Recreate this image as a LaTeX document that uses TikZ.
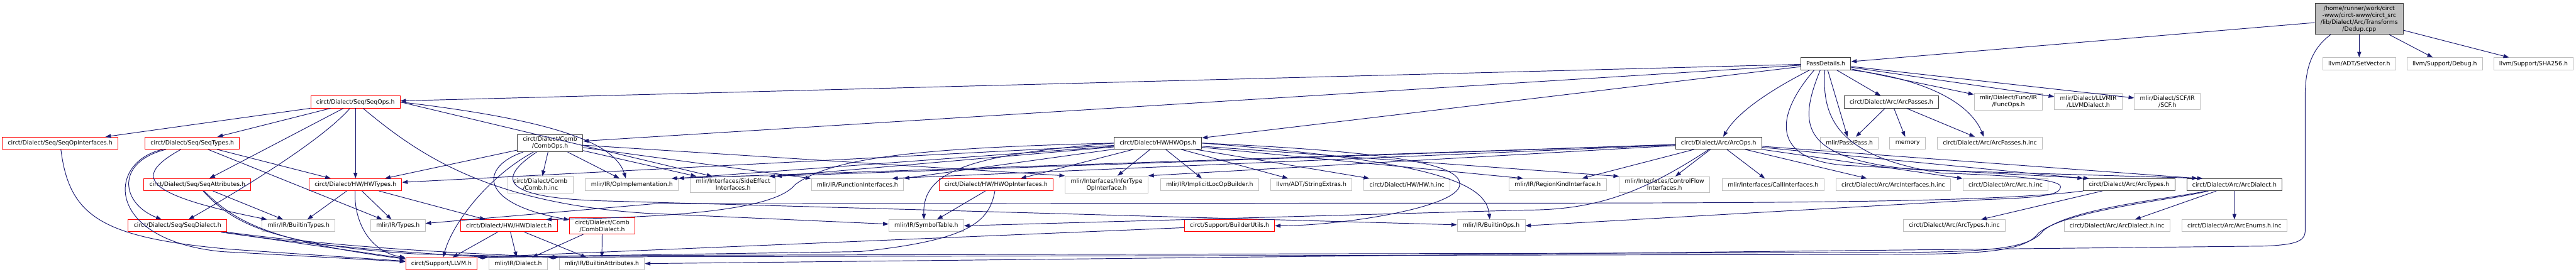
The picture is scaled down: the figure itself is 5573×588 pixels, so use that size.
\documentclass[tikz,border=0pt]{standalone}
\usepackage{fontspec}
\newfontfamily\graphfont{DejaVu Sans}
\usepackage{tikz}
\usetikzlibrary{arrows.meta}
\definecolor{edgeBlue}{RGB}{25,25,112}
\definecolor{boxRed}{RGB}{255,0,0}
\definecolor{boxGray}{RGB}{191,191,191}
\definecolor{boxDark}{RGB}{64,64,64}

\begin{document}
\begin{tikzpicture}[x=1pt, y=-1pt,
    file/.style={rectangle, draw=boxGray, fill=white, line width=1.3pt, inner xsep=12pt, inner ysep=5pt, minimum height=26pt, align=center, font=\graphfont\fontsize{12.7pt}{15pt}\selectfont},
    redfile/.style={file, draw=boxRed},
    docfile/.style={file, draw=boxDark},
    rootfile/.style={file, draw=boxDark, fill=boxGray},
    dep/.style={-{Triangle[length=12pt, width=8.5pt]}, line width=1.3pt, edgeBlue}
]
\useasboundingbox (0,0) rectangle (5573,588);
\node[rootfile] (root) at (5104,41) {/home/runner/work/circt\\-www/circt-www/circt\_src\\/lib/Dialect/Arc/Transforms\\/Dedup.cpp};
\node[docfile] (passdet) at (3950,138) {PassDetails.h};
\node[file] (setvec) at (5104,138) {llvm/ADT/SetVector.h};
\node[file] (debug) at (5289,138) {llvm/Support/Debug.h};
\node[file] (sha) at (5481,138) {llvm/Support/SHA256.h};
\node[redfile] (seqops) at (769,221) {circt/Dialect/Seq/SeqOps.h};
\node[docfile] (arcpasses) at (4092,221) {circt/Dialect/Arc/ArcPasses.h};
\node[file] (funcops) at (4345,220) {mlir/Dialect/Func/IR\\/FuncOps.h};
\node[file] (llvmdia) at (4518,220) {mlir/Dialect/LLVMIR\\/LLVMDialect.h};
\node[file] (scf) at (4689,220) {mlir/Dialect/SCF/IR\\/SCF.h};
\node[redfile] (seqopif) at (130,310) {circt/Dialect/Seq/SeqOpInterfaces.h};
\node[redfile] (seqtypes) at (416,310) {circt/Dialect/Seq/SeqTypes.h};
\node[docfile] (combops) at (1190,310) {circt/Dialect/Comb\\/CombOps.h};
\node[docfile] (hwops) at (2505,310) {circt/Dialect/HW/HWOps.h};
\node[docfile] (arcops) at (3718,310) {circt/Dialect/Arc/ArcOps.h};
\node[file] (pass) at (4001,310) {mlir/Pass/Pass.h};
\node[file] (memory) at (4127,310) {memory};
\node[file] (arcpassinc) at (4305,310) {circt/Dialect/Arc/ArcPasses.h.inc};
\node[redfile] (seqattr) at (427,400) {circt/Dialect/Seq/SeqAttributes.h};
\node[redfile] (hwtypes) at (769,400) {circt/Dialect/HW/HWTypes.h};
\node[file] (combinc) at (1169,400) {circt/Dialect/Comb\\/Comb.h.inc};
\node[file] (opimpl) at (1367,400) {mlir/IR/OpImplementation.h};
\node[file] (sideeff) at (1586,400) {mlir/Interfaces/SideEffect\\Interfaces.h};
\node[file] (funcif) at (1855,400) {mlir/IR/FunctionInterfaces.h};
\node[redfile] (hwopif) at (2155,400) {circt/Dialect/HW/HWOpInterfaces.h};
\node[file] (infer) at (2394,400) {mlir/Interfaces/InferType\\OpInterface.h};
\node[file] (implicit) at (2617,400) {mlir/IR/ImplicitLocOpBuilder.h};
\node[file] (strext) at (2837,400) {llvm/ADT/StringExtras.h};
\node[file] (hwinc) at (3044,400) {circt/Dialect/HW/HW.h.inc};
\node[file] (regionkind) at (3370,400) {mlir/IR/RegionKindInterface.h};
\node[file] (ctrlflow) at (3601,400) {mlir/Interfaces/ControlFlow\\Interfaces.h};
\node[file] (callif) at (3836,400) {mlir/Interfaces/CallInterfaces.h};
\node[file] (arcifinc) at (4096,400) {circt/Dialect/Arc/ArcInterfaces.h.inc};
\node[file] (arcinc) at (4339,400) {circt/Dialect/Arc/Arc.h.inc};
\node[docfile] (arctypes) at (4606,400) {circt/Dialect/Arc/ArcTypes.h};
\node[docfile] (arcdialect) at (4834,400) {circt/Dialect/Arc/ArcDialect.h};
\node[redfile] (seqdialect) at (384,489) {circt/Dialect/Seq/SeqDialect.h};
\node[file] (builtintypes) at (646,489) {mlir/IR/BuiltinTypes.h};
\node[file] (types) at (861,489) {mlir/IR/Types.h};
\node[redfile] (hwdialect) at (1101,489) {circt/Dialect/HW/HWDialect.h};
\node[redfile] (combdialect) at (1303,489) {circt/Dialect/Comb\\/CombDialect.h};
\node[file] (symtab) at (2004,489) {mlir/IR/SymbolTable.h};
\node[redfile] (builderutils) at (2660,489) {circt/Support/BuilderUtils.h};
\node[file] (builtinops) at (3226,489) {mlir/IR/BuiltinOps.h};
\node[file] (arctypesinc) at (4228,489) {circt/Dialect/Arc/ArcTypes.h.inc};
\node[file] (arcdiainc) at (4580,489) {circt/Dialect/Arc/ArcDialect.h.inc};
\node[file] (arcenums) at (4834,489) {circt/Dialect/Arc/ArcEnums.h.inc};
\node[redfile] (llvmh) at (955,571) {circt/Support/LLVM.h};
\node[file] (dialect) at (1121,571) {mlir/IR/Dialect.h};
\node[file] (builtinattr) at (1302,571) {mlir/IR/BuiltinAttributes.h};

\draw[dep] (root) -- (passdet);
\draw[dep] (root) -- (setvec);
\draw[dep] (root) -- (debug);
\draw[dep] (root) -- (sha);
\draw[dep] ([xshift=34pt]root.south west) .. controls (4995,110) and (4987,160) .. (4987,210) -- (4987,500) .. controls (4987,525) and (4960,530) .. (4900,533) -- (builtinattr.east);

\draw[dep] (passdet) -- (seqops);
\draw[dep] (passdet) -- (combops);
\draw[dep] (passdet) -- (hwops);
\draw[dep] ([xshift=20pt]passdet.south west) .. controls (3840,190) and (3760,240) .. ([xshift=10pt]arcops.north);
\draw[dep] (passdet) -- (arcpasses);
\draw[dep] (passdet) -- (pass);
\draw[dep] (passdet.south east) .. controls (4160,170) and (4260,220) .. ([xshift=-13pt]arcpassinc.north);
\draw[dep] (passdet) -- (funcops);
\draw[dep] (passdet) -- (llvmdia);
\draw[dep] (passdet) -- (scf);
\draw[dep] ([xshift=-25pt]passdet.south) .. controls (3840,250) and (3830,345) .. (3990,358) -- ([xshift=13pt]arctypes.north west);
\draw[dep] ([xshift=-12pt]passdet.south) .. controls (3890,270) and (3890,345) .. (4150,368) -- ([xshift=35pt]arcdialect.north west);
\draw[dep] ([xshift=-2pt]passdet.south) .. controls (3940,260) and (3980,340) .. (4200,375) .. controls (4300,378) and (4460,385) .. (4458,405) .. controls (4456,422) and (4420,428) .. (4300,432) -- (builtinops.east);

\draw[dep] (arcpasses) -- (pass);
\draw[dep] (arcpasses) -- (memory);
\draw[dep] (arcpasses) -- (arcpassinc);

\draw[dep] (seqops) -- (seqopif);
\draw[dep] (seqops) -- (seqtypes);
\draw[dep] (seqops) -- (seqattr);
\draw[dep] (seqops) .. controls (700,300) and (540,400) .. (seqdialect);
\draw[dep] (seqops) -- (hwtypes);
\draw[dep] (seqops.east) .. controls (1200,260) and (1330,310) .. ([xshift=-13pt]opimpl.north);
\draw[dep] (seqops.east) -- ([xshift=-45pt]sideeff.north);
\draw[dep] (seqops) .. controls (900,330) and (1050,440) .. (1400,462) -- (symtab);

\draw[dep] (seqopif) .. controls (150,470) and (220,515) .. (500,540) -- (llvmh);
\draw[dep] (seqtypes) .. controls (250,350) and (260,440) .. (seqdialect);
\draw[dep] (seqtypes) .. controls (230,350) and (225,520) .. (480,545) -- (llvmh);
\draw[dep] (seqtypes) .. controls (290,380) and (300,420) .. (builtintypes);
\draw[dep] (seqtypes) -- (types);
\draw[dep] (seqtypes) -- (hwtypes);
\draw[dep] (seqattr) -- (builtintypes);
\draw[dep] (seqattr) .. controls (500,470) and (560,520) .. (llvmh);
\draw[dep] (seqattr) .. controls (500,480) and (580,530) .. (900,550) -- (builtinattr.north west);
\draw[dep] (seqdialect) -- (llvmh);
\draw[dep] (seqdialect) .. controls (700,535) and (900,548) .. (dialect.north west);
\draw[dep] (seqdialect) .. controls (700,530) and (900,545) .. (builtinattr.north west);

\draw[dep] (hwtypes) -- (builtintypes);
\draw[dep] (hwtypes) -- (types);
\draw[dep] (hwtypes) -- (hwdialect);
\draw[dep] (hwtypes) .. controls (765,480) and (800,545) .. (llvmh);
\draw[dep] (hwdialect) -- (llvmh);
\draw[dep] (hwdialect) -- (dialect);
\draw[dep] (hwdialect) -- (builtinattr);
\draw[dep] (combdialect) -- (dialect);
\draw[dep] (combdialect) -- (builtinattr);

\draw[dep] (combops) -- (hwtypes);
\draw[dep] (combops) .. controls (1060,380) and (980,480) .. (llvmh);
\draw[dep] (combops) .. controls (1040,360) and (1030,440) .. (combdialect);
\draw[dep] (combops) .. controls (1070,390) and (1090,428) .. (1300,435) -- (builtinops);
\draw[dep] (combops) -- (combinc);
\draw[dep] (combops) -- (opimpl);
\draw[dep] (combops) -- (sideeff);
\draw[dep] (combops) -- (funcif);
\draw[dep] (combops) -- (infer.north west);

\draw[dep] (hwops) -- (hwopif);
\draw[dep] (hwops) -- (infer);
\draw[dep] (hwops) -- (implicit);
\draw[dep] (hwops) -- (strext);
\draw[dep] (hwops) -- (hwinc);
\draw[dep] (hwops) -- ([xshift=-75pt]regionkind.north);
\draw[dep] (hwops) -- (ctrlflow.north west);
\draw[dep] (hwops.east) .. controls (3120,350) and (3215,400) .. ([xshift=-3pt]builtinops.north);
\draw[dep] (hwops.east) .. controls (3050,330) and (3160,360) .. (3158,400) .. controls (3155,450) and (2900,489) .. (builderutils.east);
\draw[dep] (hwops.west) .. controls (2100,335) and (1995,370) .. ([xshift=-5pt]symtab.north);
\draw[dep] (hwops) -- (hwtypes);
\draw[dep] (hwops.west) .. controls (2000,320) and (1800,340) .. (1720,400) .. controls (1680,450) and (1500,470) .. ([xshift=-25pt]hwdialect.north east);
\draw[dep] (hwops) -- (opimpl.north east);
\draw[dep] (hwops) -- (sideeff.north east);
\draw[dep] (hwops) -- (funcif.north east);

\draw[dep] (arcops) -- (callif);
\draw[dep] (arcops) -- (ctrlflow);
\draw[dep] (arcops) -- (regionkind);
\draw[dep] (arcops) -- (arcifinc);
\draw[dep] (arcops) -- (arcinc);
\draw[dep] (arcops) -- (arctypes.north west);
\draw[dep] (arcops) -- ([xshift=-80pt]arcdialect.north);
\draw[dep] (arcops) .. controls (3550,420) and (3450,455) .. (3300,455) -- (symtab.east);
\draw[dep] (arcops) -- ([xshift=-25pt]funcif.north east);
\draw[dep] (arcops) -- (infer.north east);
\draw[dep] (arcops) -- ([xshift=-15pt]sideeff.north east);
\draw[dep] (arcops) -- ([xshift=-15pt]opimpl.north east);

\draw[dep] (arctypes) -- (arctypesinc);
\draw[dep] (arctypes.south west) .. controls (4300,440) and (3800,440) .. (3000,440) -- (1420,441) -- (types);
\draw[dep] (arcdialect) -- (arcdiainc);
\draw[dep] (arcdialect) -- (arcenums);
\draw[dep] (arcdialect) .. controls (4700,430) and (4480,450) .. (4420,500) .. controls (4390,540) and (4300,545) .. (4100,547) -- (1420,553) -- (llvmh.north east);
\draw[dep] (arcdialect) .. controls (4690,435) and (4470,455) .. (4410,505) .. controls (4380,545) and (4290,550) .. (4100,551) -- (1420,556) -- (dialect.north east);

\draw[dep] (builderutils) -- (llvmh.north east);
\draw[dep] (hwopif) -- (symtab);
\draw[dep] (hwopif) .. controls (2140,480) and (2100,520) .. (1860,545) -- (llvmh.north east);
\end{tikzpicture}
\end{document}
